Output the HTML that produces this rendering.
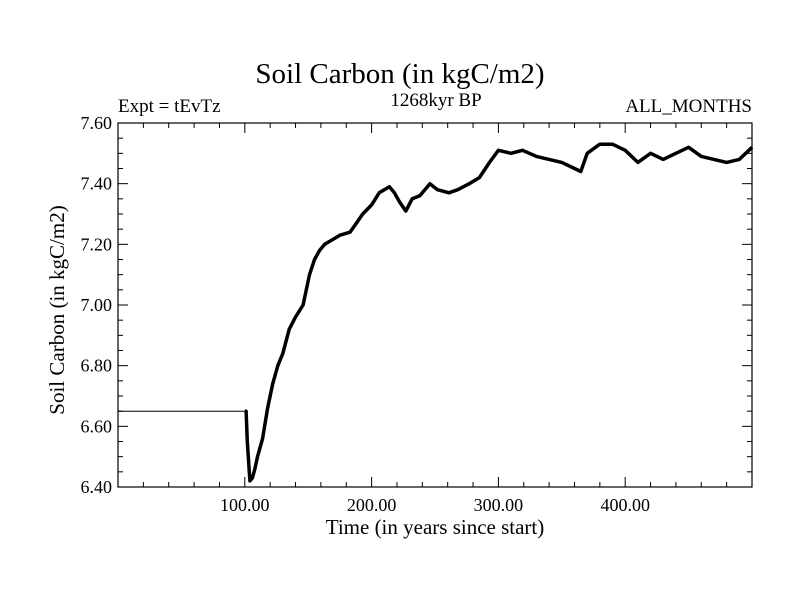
<!DOCTYPE html>
<html><head><meta charset="utf-8"><style>
body{margin:0;background:#fff}
svg{display:block}
text{font-family:"Liberation Serif",serif;fill:#000}
</style></head><body>
<svg id="chart" width="800" height="600">
<text x="400" y="83" font-size="29" text-anchor="middle">Soil Carbon (in kgC/m2)</text>
<text x="436" y="106" font-size="19" text-anchor="middle">1268kyr BP</text>
<text x="118" y="112" font-size="19">Expt = tEvTz</text>
<text x="752" y="112" font-size="19" text-anchor="end">ALL_MONTHS</text>
<text x="435" y="534" font-size="21" text-anchor="middle">Time (in years since start)</text>
<text transform="translate(64,310) rotate(-90)" font-size="21" text-anchor="middle">Soil Carbon (in kgC/m2)</text>
<g id="axes"></g>
<path id="line" fill="none" stroke="#000" stroke-linejoin="round"></path>
<path id="line2" fill="none" stroke="#000" stroke-width="3.5" stroke-linejoin="round"></path>
<rect x="118" y="123" width="634" height="364" fill="none" stroke="#000" stroke-width="1.2"></rect>
</svg>
<script>
const years=[0,100,101,102,104,106,108,110,114,118,122,126,130,135,140,146,151,155,159,163,167,175,183,188,193,200,206,210,214,218,222,227,232,238,246,252,261,268,277,285,293,300,310,319,330,340,350,360,365,370,380,390,400,410,420,430,440,450,460,470,480,490,495,500];
const values=[6.65,6.65,6.65,6.55,6.42,6.43,6.46,6.5,6.56,6.66,6.74,6.8,6.84,6.92,6.96,7.0,7.1,7.15,7.18,7.2,7.21,7.23,7.24,7.27,7.3,7.33,7.37,7.38,7.39,7.37,7.34,7.31,7.35,7.36,7.4,7.38,7.37,7.38,7.40,7.42,7.47,7.51,7.50,7.51,7.49,7.48,7.47,7.45,7.44,7.50,7.53,7.53,7.51,7.47,7.50,7.48,7.50,7.52,7.49,7.48,7.47,7.48,7.50,7.52];
const xTicks=[100,200,300,400];
const yTicks=[6.40,6.60,6.80,7.00,7.20,7.40,7.60];
const X0=118,X1=752,Y0=487,Y1=123;
const sx=v=>X0+(v-0)/(500-0)*(X1-X0);
const sy=v=>Y0-(v-6.4)/(7.6-6.4)*(Y0-Y1);
const ns="http://www.w3.org/2000/svg";
const g=document.getElementById('axes');
function line(x1,y1,x2,y2,name){const l=document.createElementNS(ns,'line');l.setAttribute('x1',x1);l.setAttribute('y1',y1);l.setAttribute('x2',x2);l.setAttribute('y2',y2);l.setAttribute('stroke','#000');l.setAttribute('stroke-width','1');


g.appendChild(l);}
function txt(x,y,s,anchor,name){const t=document.createElementNS(ns,'text');t.setAttribute('x',x);t.setAttribute('y',y);t.setAttribute('font-size','18');t.setAttribute('text-anchor',anchor);t.textContent=s;


g.appendChild(t);}
for(let v=20;v<500;v+=20){const x=sx(v);const maj=v%100===0;line(x,Y0,x,Y0-(maj?10:5),'x-tick');line(x,Y1,x,Y1+(maj?10:5),'x-tick-top');}
xTicks.forEach(v=>txt(sx(v),Y0+24,v.toFixed(2),'middle','x-tick-label'));
for(let i=0;i<=24;i++){const v=6.4+i*0.05;const y=sy(v);const maj=i%4===0;line(X0,y,X0+(maj?10:5),y,'y-tick');line(X1,y,X1-(maj?10:5),y,'y-tick-right');}
yTicks.forEach(v=>txt(X0-6,sy(v)+6,v.toFixed(2),'end','y-tick-label'));
let d1='',d2='';
years.forEach((y,i)=>{const p=sx(y).toFixed(1)+','+sy(values[i]).toFixed(1);if(y<=101)d1+=(i?'L':'M')+p;if(y>=100)d2+=(d2?'L':'M')+p;});
document.getElementById('line').setAttribute('d',d1);
document.getElementById('line2').setAttribute('d',d2);
</script>
</body></html>
